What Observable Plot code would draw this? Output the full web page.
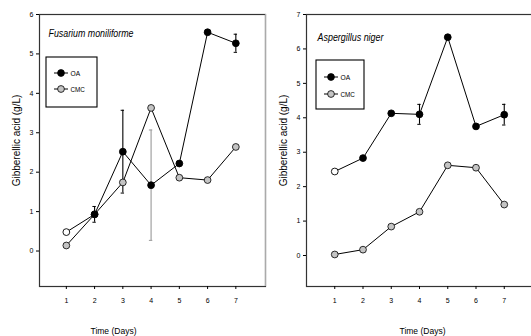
<!DOCTYPE html>
<html><head><meta charset="utf-8">
<script src="https://cdn.jsdelivr.net/npm/d3@7"></script>
<script src="https://cdn.jsdelivr.net/npm/@observablehq/plot@0.6"></script>
<style>
body{margin:0;background:#fff;}
#wrap{position:relative;width:531px;height:336px;overflow:hidden;background:#fff;}
.panel{position:absolute;top:0;}
</style></head><body><div id="wrap"></div>
<script>
const days = [1,2,3,4,5,6,7];
const fusOA = [0.48,0.93,2.52,1.67,2.22,5.55,5.27];
const fusOAerr = [0,0.2,1.05,1.4,0,0,0.23];
const fusCMC = [0.14,0.93,1.74,3.63,1.86,1.80,2.64];
const aspOA = [2.44,2.83,4.13,4.10,6.34,3.75,4.09];
const aspOAerr = [0,0,0,0.29,0,0,0.3];
const aspCMC = [0.03,0.17,0.84,1.27,2.62,2.55,1.48];
const yTicksFus = [0,1,2,3,4,5,6];
const yTicksAsp = [0,1,2,3,4,5,6,7];
const seriesNames = ["OA","CMC"];
const titles = ["Fusarium moniliforme","Aspergillus niger"];
const yLabel = "Gibberellic acid (g/L)";
const xLabel = "Time (Days)";

const SANS = '"Liberation Sans",Arial,sans-serif';

// compress horizontal text glyphs (the reference is horizontally condensed)
function squeeze(svg, content, width){
  d3.select(svg).selectAll("text").filter(function(){ return this.textContent === content; })
    .attr("textLength", width).attr("lengthAdjust", "spacingAndGlyphs");
}

function panel(cfg){
  const oa = days.map((d,i)=>({day:d, v:cfg.oa[i], e:cfg.err[i]}));
  const cmc = days.map((d,i)=>({day:d, v:cfg.cmc[i]}));
  const errs = oa.filter(d=>d.e>0);
  const errColor = d => (cfg.grayErrDay===d.day ? "#999" : "#000");
  const p = Plot.plot({
    width: cfg.width, height: 336,
    marginLeft: cfg.ml, marginRight: cfg.mr, marginTop: 14, marginBottom: 50,
    style: {fontFamily: SANS, background: "transparent"},
    x: {domain: cfg.xdom},
    y: {domain: cfg.ydom},
    marks: [
      Plot.frame({stroke: "#333", strokeWidth: 1.2}),
      cfg.lightRight ? Plot.ruleX([cfg.xdom[1]], {stroke: "#aaa", strokeWidth: 1.2}) : null,
      Plot.axisY({ticks: cfg.yticks, tickSize: 3, tickPadding: 3, label: null, fontSize: 7, tickFormat: d3.format("d")}),
      Plot.axisX({ticks: days, tickSize: 3, tickPadding: 9, label: null, fontSize: 7, tickFormat: d3.format("d")}),
      Plot.line(cmc, {x: "day", y: "v", stroke: "#000", strokeWidth: 1}),
      Plot.line(oa, {x: "day", y: "v", stroke: "#000", strokeWidth: 1}),
      Plot.ruleX(errs, {x: "day", y1: d=>d.v-d.e, y2: d=>d.v+d.e, stroke: errColor, strokeWidth: 1.1}),
      Plot.ruleY(errs, {y: d=>d.v+d.e, x1: d=>d.day-0.06, x2: d=>d.day+0.06, stroke: errColor}),
      Plot.ruleY(errs, {y: d=>d.v-d.e, x1: d=>d.day-0.06, x2: d=>d.day+0.06, stroke: errColor}),
      Plot.dot(cmc, {x: "day", y: "v", r: 3.4, fill: "#c4c4c4", stroke: "#000", strokeWidth: 0.8}),
      Plot.dot(oa, {x: "day", y: "v", r: 3.4, fill: d => d.day===1 ? "#fff" : "#000", stroke: "#000", strokeWidth: 0.9}),
      Plot.text([cfg.title], {frameAnchor: "top-left", textAnchor: "start", lineAnchor: "middle", dx: cfg.tdx, dy: cfg.tdy, fontStyle: "italic", fontSize: 11, fill: "#000"}),
      Plot.text([xLabel], {frameAnchor: "bottom-left", textAnchor: "middle", lineAnchor: "middle", dx: cfg.xlx, dy: 44, fontSize: 9.5, fill: "#000"}),
      Plot.text([yLabel], {frameAnchor: "left", rotate: -90, textAnchor: "middle", lineAnchor: "middle", dx: -23, dy: -10, fontSize: 10, fill: "#000"})
    ]
  });
  squeeze(p, cfg.title, cfg.tw);
  squeeze(p, xLabel, 46);
  // legend box
  const g = d3.select(p).append("g").attr("class","legend").attr("text-anchor","start");
  const L = cfg.legend;
  g.append("rect").attr("x", L.x).attr("y", L.y).attr("width", L.w).attr("height", L.h)
    .attr("fill","none").attr("stroke","#000").attr("stroke-width",1.1);
  seriesNames.forEach((name,i)=>{
    const yy = L.y + L.y0 + i*L.dy;
    g.append("line").attr("x1", L.x+8).attr("x2", L.x+22).attr("y1", yy).attr("y2", yy).attr("stroke","#000");
    g.append("circle").attr("cx", L.x+15).attr("cy", yy).attr("r", 3.4)
      .attr("fill", i===0 ? "#000" : "#c4c4c4").attr("stroke","#000").attr("stroke-width",0.8);
    g.append("text").attr("x", L.x+24.5).attr("y", yy).attr("dy","0.35em").attr("text-anchor","start")
      .attr("font-size", 8).attr("font-family", SANS)
      .attr("textLength", name.length*4.8).attr("lengthAdjust","spacingAndGlyphs").text(name);
  });
  return p;
}

const wrap = document.getElementById("wrap");
const left = panel({width: 270, ml: 39, mr: 5, xdom: [0.05, 8.05], ydom: [-0.9, 6], yticks: yTicksFus,
  oa: fusOA, err: fusOAerr, cmc: fusCMC, grayErrDay: 4, lightRight: true,
  title: titles[0], tw: 85, tdx: 9, tdy: 19, xlx: 74,
  legend: {x: 46, y: 57, w: 51, h: 50, y0: 16, dy: 16}});
left.classList.add("panel"); left.style.left = "0px";
wrap.appendChild(left);
const right = panel({width: 267, ml: 41, mr: 0, xdom: [0, 8], ydom: [-0.9, 7], yticks: yTicksAsp,
  oa: aspOA, err: aspOAerr, cmc: aspCMC, grayErrDay: null, lightRight: false,
  title: titles[1], tw: 66, tdx: 11, tdy: 23, xlx: 116,
  legend: {x: 51, y: 60, w: 48, h: 49, y0: 17, dy: 17}});
right.classList.add("panel"); right.style.left = "265px";
wrap.appendChild(right);
</script>
</body></html>
